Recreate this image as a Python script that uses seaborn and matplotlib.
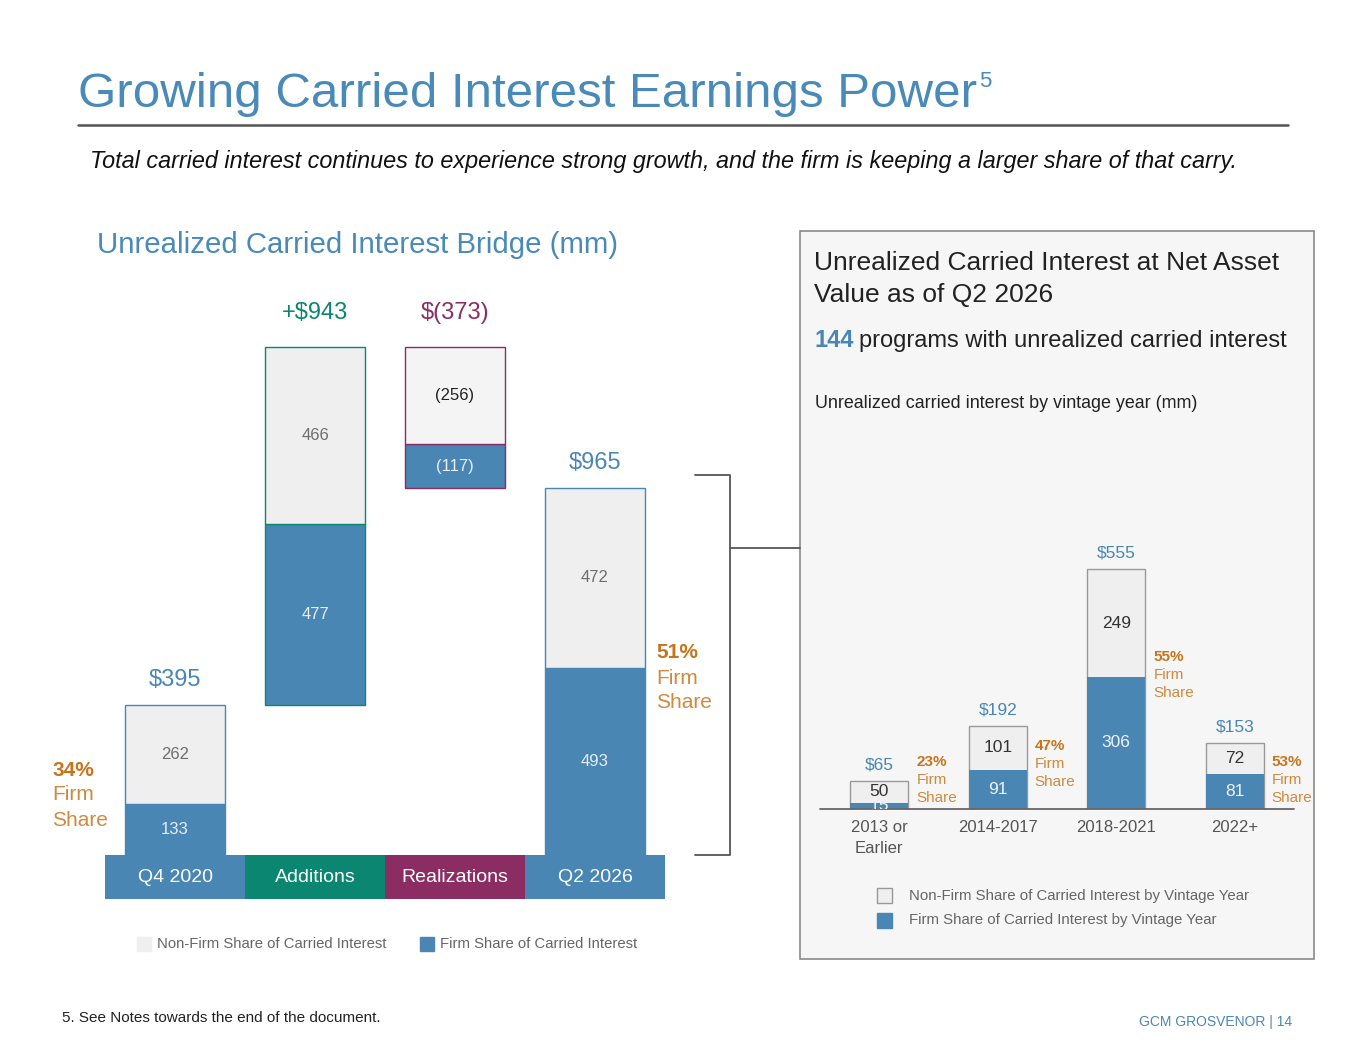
import matplotlib
matplotlib.use("Agg")
import matplotlib.pyplot as plt
from matplotlib.patches import Rectangle
from matplotlib.lines import Line2D
import seaborn as sns
import numpy as np

# ---------------- data ----------------
bridge_steps = ["Q4 2020", "Additions", "Realizations", "Q2 2026"]
bridge_kind = ["total", "delta", "delta", "total"]
bridge_firm = [133, 477, -117, 493]
bridge_nonfirm = [262, 466, -256, 472]

vintages = ["2013 or\nEarlier", "2014-2017", "2018-2021", "2022+"]
vintage_firm = [15, 91, 306, 81]
vintage_nonfirm = [50, 101, 249, 72]

programs_count = 144

# ---------------- style ----------------
sns.set_theme(style="white")
plt.rcParams['font.family'] = ['Liberation Sans', 'DejaVu Sans']

BLUE = "#4A86B4"
LIGHT = "#EFEFEF"
TEAL = "#0B8670"
MAROON = "#8B2D62"
ORANGE = "#C8741B"
ORANGE_L = "#CF8A3E"
TITLE_BLUE = "#4A8AB8"
GRAY_TXT = "#666666"

W, H = 1365, 1055
fig = plt.figure(figsize=(W / 100, H / 100), dpi=100)
fig.patch.set_facecolor("white")


def fx(x):
    return x / W


def fy(y):
    return 1 - y / H


# ---------------- header ----------------
t = fig.text(fx(78), fy(107), "Growing Carried Interest Earnings Power", color=TITLE_BLUE,
             fontsize=35.5, va="baseline", ha="left")
fig.canvas.draw()
bb = t.get_window_extent()
fig.text(bb.x1 / W + 0.0015, fy(87), "5", color=TITLE_BLUE, fontsize=16, va="baseline", ha="left")
fig.add_artist(Line2D([fx(78), fx(1288)], [fy(125), fy(125)], color="#555555", lw=1.8))
fig.text(fx(90), fy(168),
         "Total carried interest continues to experience strong growth, and the firm is keeping a larger share of that carry.",
         fontsize=16.8, style="italic", color="#111111", va="baseline")
fig.text(fx(97), fy(253), "Unrealized Carried Interest Bridge (mm)", fontsize=21.2,
         color=TITLE_BLUE, va="baseline")

# ---------------- left bridge chart ----------------
ax = fig.add_axes([fx(105), fy(855), fx(665) - fx(105), fy(300) - fy(855)])
ax.set_xlim(-0.5, 3.5)
px_per_unit = 0.38
ax.set_ylim(0, 555 / px_per_unit)
ax.axis("off")

edge_cols = [BLUE, TEAL, MAROON, BLUE]
band_cols = [BLUE, TEAL, MAROON, BLUE]
label_cols = [BLUE, TEAL, MAROON, BLUE]
bw = 100 / 140

running = 0
for i, (kind, f, n) in enumerate(zip(bridge_kind, bridge_firm, bridge_nonfirm)):
    total = f + n
    if kind == "total":
        fb, nb = 0, f
        running = total
        top = total
        lbl = f"${total:,}"
    elif total >= 0:
        fb, nb = running, running + f
        top = running + total
        running += total
        lbl = f"+${total:,}"
    else:
        nb = running
        fb = running + n
        top = running
        running += total
        lbl = f"$({-total:,})"
    ax.bar(i, f, bottom=fb, width=bw, color=BLUE, edgecolor=edge_cols[i], lw=1.0, zorder=3)
    ax.bar(i, n, bottom=nb, width=bw, color=LIGHT if total >= 0 else "#F4F4F4",
           edgecolor=edge_cols[i], lw=1.0, zorder=3)
    # segment labels
    fs = f"({-f})" if f < 0 else f"{f}"
    ns = f"({-n})" if n < 0 else f"{n}"
    ax.text(i, fb + f / 2, fs, ha="center", va="center", fontsize=12, color="#E6EDF4", zorder=4)
    ax.text(i, nb + n / 2, ns, ha="center", va="center", fontsize=12,
            color="#222222" if n < 0 else "#6E6E6E", zorder=4)
    # total labels
    ax.annotate(lbl, xy=(i, top), xytext=(0, 16 if kind == "delta" else 10),
                textcoords="offset points", ha="center", va="bottom", fontsize=17,
                color=label_cols[i])
    # category band
    ax.bar(i, -44 / px_per_unit, bottom=0, width=1.0, color=band_cols[i], linewidth=0,
           clip_on=False, zorder=2)
    ax.text(i, -22 / px_per_unit, bridge_steps[i], ha="center", va="center", fontsize=14,
            color="white", zorder=4, clip_on=False)

# firm share notes (left chart)
p0 = round(100 * bridge_firm[0] / (bridge_firm[0] + bridge_nonfirm[0]))
p3 = round(100 * bridge_firm[3] / (bridge_firm[3] + bridge_nonfirm[3]))
for (x, y0, p) in [(52, 770, p0), (656, 653, p3)]:
    fig.text(fx(x), fy(y0), f"{p}%", fontsize=15, fontweight="bold", color=ORANGE, va="center")
    fig.text(fx(x), fy(y0 + 25), "Firm", fontsize=15, color=ORANGE_L, va="center")
    fig.text(fx(x), fy(y0 + 50), "Share", fontsize=15, color=ORANGE_L, va="center")

# left legend
fig.add_artist(Rectangle((fx(137), fy(951)), fx(14), 14 / H, color=LIGHT, transform=fig.transFigure))
fig.text(fx(157), fy(944), "Non-Firm Share of Carried Interest", fontsize=10.7, color=GRAY_TXT, va="center")
fig.add_artist(Rectangle((fx(420), fy(951)), fx(14), 14 / H, color=BLUE, transform=fig.transFigure))
fig.text(fx(440), fy(944), "Firm Share of Carried Interest", fontsize=10.7, color=GRAY_TXT, va="center")

# bracket
bc = "#555555"
fig.add_artist(Line2D([fx(695), fx(730), fx(730), fx(695)], [fy(475), fy(475), fy(855), fy(855)],
                      color=bc, lw=1.3))
fig.add_artist(Line2D([fx(730), fx(800)], [fy(548), fy(548)], color=bc, lw=1.3))

# ---------------- right panel ----------------
fig.add_artist(Rectangle((fx(800), fy(959)), fx(1314) - fx(800), (959 - 231) / H,
                         facecolor="#F6F6F6", edgecolor="#8A8A8A", lw=1.2,
                         transform=fig.transFigure, zorder=0))
fig.text(fx(814), fy(270), "Unrealized Carried Interest at Net Asset", fontsize=19,
         color="#222222", va="baseline")
fig.text(fx(814), fy(302), "Value as of Q2 2026", fontsize=19, color="#222222", va="baseline")
tn = fig.text(fx(814), fy(347), f"{programs_count}", fontsize=17, fontweight="bold",
              color=BLUE, va="baseline")
fig.canvas.draw()
bb = tn.get_window_extent()
fig.text(bb.x1 / W + 0.004, fy(347), "programs with unrealized carried interest", fontsize=17,
         color="#222222", va="baseline")
fig.text(fx(815), fy(408), "Unrealized carried interest by vintage year (mm)", fontsize=12.9,
         color="#222222", va="baseline")

ax2 = fig.add_axes([fx(820), fy(809), fx(1294) - fx(820), fy(520) - fy(809)])
ax2.set_facecolor("none")
totals = [f + n for f, n in zip(vintage_firm, vintage_nonfirm)]
sns.barplot(x=vintages, y=totals, color=LIGHT, saturation=1, width=0.49, edgecolor="#999999",
            linewidth=1.0, ax=ax2, zorder=2)
sns.barplot(x=vintages, y=vintage_firm, color=BLUE, saturation=1, width=0.49, linewidth=0,
            ax=ax2, zorder=3)
ppu2 = 0.432
ax2.set_xlim(-0.5, 3.5)
ax2.set_ylim(0, 289 / ppu2)
for s in ax2.spines.values():
    s.set_visible(False)
ax2.set_yticks([])
ax2.set_xticks([])
ax2.set_xlabel("")
ax2.set_ylabel("")
ax2.axhline(0, color="#666666", lw=1.3, zorder=4, clip_on=False)

share_label_y = [109, 146, 352, 109]
for i, (f, n, tot) in enumerate(zip(vintage_firm, vintage_nonfirm, totals)):
    ax2.text(i, f / 2, f"{f}", ha="center", va="center", fontsize=12.5, color="#EEF3F8",
             zorder=5, clip_on=True)
    ax2.text(i, f + n / 2, f"{n}", ha="center", va="center", fontsize=12.5, color="#333333", zorder=5)
    ax2.annotate(f"${tot}", xy=(i, tot), xytext=(0, 6), textcoords="offset points",
                 ha="center", va="bottom", fontsize=12.5, color=BLUE)
    pct = round(100 * f / tot)
    xl = i + 0.245 + 8 / 118.5
    yl = share_label_y[i]
    ax2.text(xl, yl, f"{pct}%", fontsize=11, fontweight="bold", color=ORANGE, va="center", ha="left")
    ax2.text(xl, yl - 18 / ppu2, "Firm", fontsize=11, color=ORANGE_L, va="center", ha="left")
    ax2.text(xl, yl - 36 / ppu2, "Share", fontsize=11, color=ORANGE_L, va="center", ha="left")
    ax2.text(i, -11 / ppu2, vintages[i], ha="center", va="top", fontsize=12, color="#555555",
             linespacing=1.5, clip_on=False)

# right legend
fig.add_artist(Rectangle((fx(877), fy(903)), fx(15), 15 / H, facecolor=LIGHT, edgecolor="#999999",
                         lw=1, transform=fig.transFigure))
fig.text(fx(909), fy(896), "Non-Firm Share of Carried Interest by Vintage Year", fontsize=10.8,
         color=GRAY_TXT, va="center")
fig.add_artist(Rectangle((fx(877), fy(928)), fx(15), 15 / H, facecolor=BLUE, edgecolor=BLUE,
                         lw=1, transform=fig.transFigure))
fig.text(fx(909), fy(920), "Firm Share of Carried Interest by Vintage Year", fontsize=10.8,
         color=GRAY_TXT, va="center")

# footer
fig.text(fx(62), fy(1018), "5. See Notes towards the end of the document.", fontsize=11,
         color="#222222", va="center")
fig.text(fx(1292), fy(1022), "GCM GROSVENOR | 14", fontsize=10, color=BLUE, va="center", ha="right")

fig.savefig("out.png", dpi=100)
